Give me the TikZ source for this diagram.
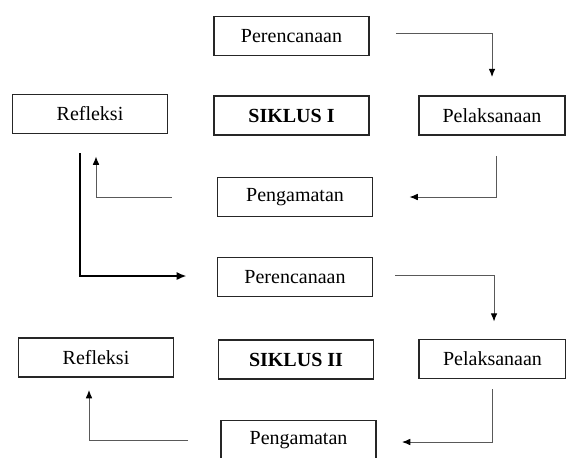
\documentclass[tikz,border=0pt]{standalone}
\usepackage{fontspec}
\setmainfont{Liberation Serif}
\usetikzlibrary{positioning, arrows.meta}

\begin{document}
\begin{tikzpicture}[%
		x=0.6pt,
		y=-0.6pt,
		stage/.style={
			rectangle,
			minimum width=93pt,
			minimum height=23.4pt,
			line width=1.1pt,
			draw=black!85,
			font=\fontsize{12}{14}\selectfont,
			inner sep=0pt
		},
		title/.style={
			font=\fontsize{12}{14}\selectfont\bfseries
		},
		narrow/.style={
			minimum width=88pt
		},
		flow/.style={
			line width=0.6pt,
			black!65,
			-{Latex[length=5pt,width=4pt,black]}
		},
		bigflow/.style={
			line width=1.4pt,
			black,
			-{Latex[length=6pt,width=5pt]}
		}]

		\useasboundingbox (0,0) rectangle (566,457);

		% SIKLUS I

		\node (p1) [stage] at (291.5,36) {Perencanaan};
		\node (s1) [stage,title] at (291.5,115.5) {SIKLUS I};
		\node (r1) [stage] at (90,114) {Refleksi};
		\node (l1) [stage,narrow] at (492,115.5) {Pelaksanaan};
		\node (g1) [stage] at (295,197) {Pengamatan};

		% SIKLUS II

		\node (p2) [stage] at (295,277) {Perencanaan};
		\node (s2) [stage,title] at (296,359.5) {SIKLUS II};
		\node (r2) [stage] at (96,357.5) {Refleksi};
		\node (l2) [stage,narrow] at (492.5,359) {Pelaksanaan};
		\node (g2) [stage] at (298.5,440) {Pengamatan};

		% SIKLUS I LINES

		\draw[flow] ([xshift=15.6pt,yshift=1.8pt]p1.east) -| ([yshift=10.8pt]l1.north);
		\draw[flow] ([xshift=2.4pt,yshift=-12pt]l1.south) |- ([xshift=21.6pt]g1.east);
		\draw[flow] ([xshift=-27pt]g1.west) -| ([xshift=3.6pt,yshift=-13.2pt]r1.south);
		\draw[bigflow] ([xshift=-6pt,yshift=-11.4pt]r1.south) |- ([xshift=-18pt,yshift=0.6pt]p2.west);

		% SIKLUS II LINES

		\draw[flow] ([xshift=13.2pt,yshift=1.2pt]p2.east) -| ([xshift=0.9pt,yshift=10.2pt]l2.north);
		\draw[flow] ([yshift=-6pt]l2.south) |- ([xshift=15pt,yshift=-1.2pt]g2.east);
		\draw[flow] ([xshift=-19.2pt]g2.west) -| ([xshift=-4.2pt,yshift=-7.2pt]r2.south);
\end{tikzpicture}
\end{document}
